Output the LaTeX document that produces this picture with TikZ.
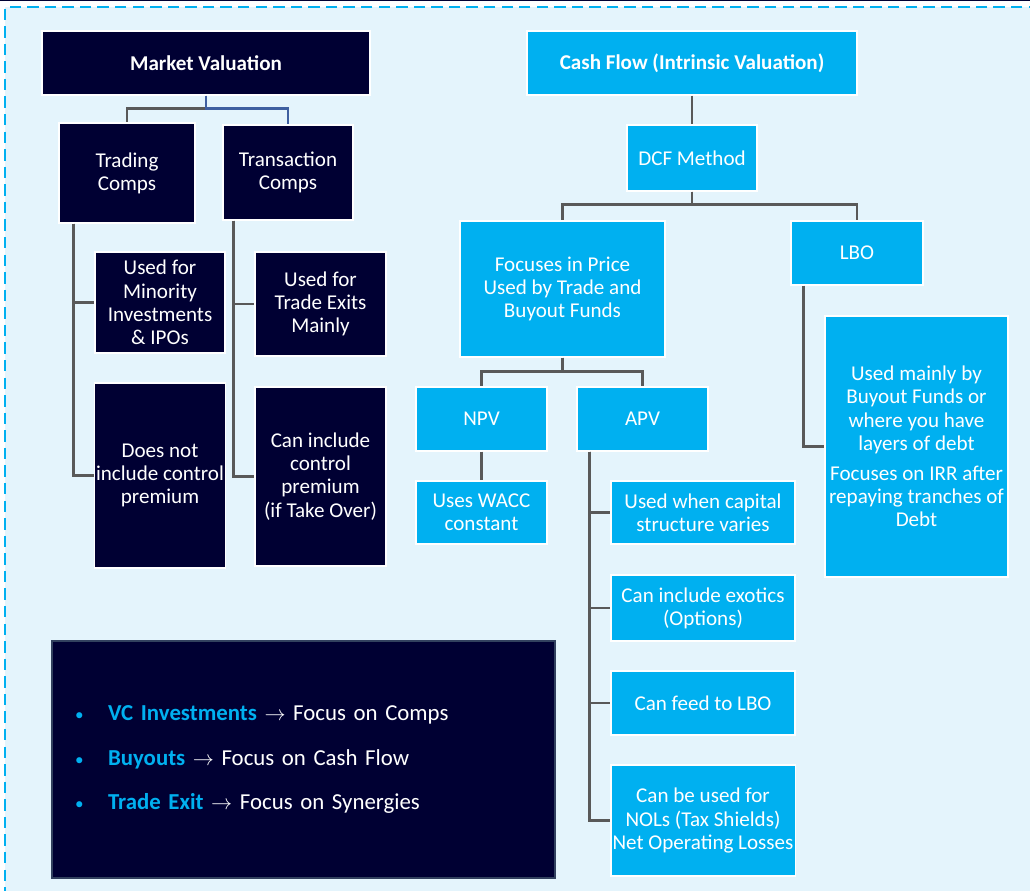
\documentclass[tikz,border=0pt]{standalone}
\usepackage{xcolor}
\usepackage{fontspec}
\setmainfont{Carlito}
\usepackage{tikz}
\usetikzlibrary{calc,positioning}

\definecolor{navy}{RGB}{0,0,51}
\definecolor{cyanblue}{RGB}{0,176,240}
\definecolor{bgblue}{RGB}{228,244,252}
\definecolor{linkgray}{RGB}{89,89,89}
\definecolor{linkblue}{RGB}{62,95,160}
\definecolor{rimgray}{RGB}{50,65,95}

\newcommand{\listdot}{\makebox[0.66cm][l]{\textcolor{cyanblue}{\scalebox{0.75}{\textbullet}}}}

\begin{document}
\begin{tikzpicture}[x=0.02cm, y=-0.02cm, align=center,
    navybox/.style={draw=white, line width=0.8pt, fill=navy, text=white, inner sep=1pt, font=\fontsize{12}{13.2}\selectfont},
    cyanbox/.style={navybox, fill=cyanblue},
    link/.style={draw=linkgray, line width=1.4pt}]
    \useasboundingbox (0,0) rectangle (1030,890);
    \clip (0,0) rectangle (1030,890);
    \fill[white] (0,0) rectangle (1030,890);
    \fill[bgblue] (5,7) rectangle (1040,900);
    \draw[cyanblue, line width=1.4pt, dash pattern=on 6.5pt off 3.5pt] (1040,7) -- (5,7) -- (5,900);
    \draw[navy, line width=0.8pt] (0,0.5) -- (1030,0.5);

    \node [navybox, minimum width=6.56cm, minimum height=1.28cm, font=\fontsize{12}{13.2}\selectfont\bfseries] (market_valuation) at (206,63) {Market Valuation};
    \node [navybox, minimum width=2.72cm, minimum height=2cm] (trading_comps) at (127,173) {Trading\\Comps};
    \node [navybox, minimum width=2.6cm, minimum height=1.9cm] (transaction_comps) at (288,172.5) {Transaction\\Comps};
    \node [navybox, minimum width=2.6cm, minimum height=2.02cm] (minority) at (160,302.5) {Used for\\Minority\\Investments\\\& IPOs};
    \node [navybox, minimum width=2.6cm, minimum height=3.7cm] (no_control) at (160,475.5) {Does not\\include control\\premium};
    \node [navybox, minimum width=2.62cm, minimum height=2.08cm] (trade_exits) at (320.5,304) {Used for\\Trade Exits\\Mainly};
    \node [navybox, minimum width=2.62cm, minimum height=3.58cm] (can_control) at (320.5,476.5) {Can include\\control\\premium\\(if Take Over)};

    \node [cyanbox, minimum width=6.6cm, minimum height=1.28cm, font=\fontsize{12}{13.2}\selectfont\bfseries] (cash_flow) at (692,63) {Cash Flow (Intrinsic Valuation)};
    \node [cyanbox, minimum width=2.6cm, minimum height=1.32cm] (dcf) at (692,158) {DCF Method};
    \node [cyanbox, minimum width=4.1cm, minimum height=2.72cm] (price) at (562.5,289) {Focuses in Price\\Used by Trade and\\Buyout Funds};
    \node [cyanbox, minimum width=2.64cm, minimum height=1.28cm] (lbo) at (857,253) {LBO};
    \node [cyanbox, minimum width=3.66cm, minimum height=5.22cm] (lbo_note) at (916.5,446.5) {Used mainly by\\Buyout Funds or\\where you have\\layers of debt\\[4pt]Focuses on IRR after\\repaying tranches of\\Debt};
    \node [cyanbox, minimum width=2.62cm, minimum height=1.28cm] (npv) at (481.5,419) {NPV};
    \node [cyanbox, minimum width=2.62cm, minimum height=1.28cm] (apv) at (642.5,419) {APV};
    \node [cyanbox, minimum width=2.62cm, minimum height=1.26cm] (wacc) at (481.5,512.5) {Uses WACC\\constant};
    \node [cyanbox, minimum width=3.68cm, minimum height=1.26cm] (capital) at (703,512.5) {Used when capital\\structure varies};
    \node [cyanbox, minimum width=3.68cm, minimum height=1.32cm] (exotics) at (703,608) {Can include exotics\\(Options)};
    \node [cyanbox, minimum width=3.68cm, minimum height=1.28cm] (feed_lbo) at (703,703) {Can feed to LBO};
    \node [cyanbox, minimum width=3.68cm, minimum height=2.22cm] (nols) at (703,820.5) {Can be used for\\NOLs (Tax Shields)\\Net Operating Losses};

    \node [navybox, draw=rimgray, minimum width=10.06cm, minimum height=4.74cm, align=left, inner xsep=0.46cm, text width=9.14cm, font=\fontsize{13}{25.5}\selectfont] (focus) at (303.5,759.5) {%
        \listdot\textcolor{cyanblue}{\bfseries VC Investments} $\rightarrow$ Focus on Comps\\
        \listdot\textcolor{cyanblue}{\bfseries Buyouts} $\rightarrow$ Focus on Cash Flow\\
        \listdot\textcolor{cyanblue}{\bfseries Trade Exit} $\rightarrow$ Focus on Synergies};

    \draw[link] (market_valuation.south) -- ++(0,13) -| (trading_comps.north);
    \draw[link, draw=linkblue] (market_valuation.south) -- ++(0,13) -| (transaction_comps.north);
    \draw[link] ($(trading_comps.south west)+(15,0)$) |- (minority.west);
    \draw[link] ($(trading_comps.south west)+(15,0)$) |- (no_control.west);
    \draw[link] ($(transaction_comps.south west)+(11,0)$) |- (trade_exits.west);
    \draw[link] ($(transaction_comps.south west)+(11,0)$) |- (can_control.west);

    \draw[link] (cash_flow) -- (dcf);
    \draw[link] (dcf.south) -- ++(0,13) -| (price.north);
    \draw[link] (dcf.south) -- ++(0,13) -| (lbo.north);
    \draw[link] ($(lbo.south west)+(13,0)$) |- (lbo_note.west);
    \draw[link] (price.south) -- ++(0,14) -| (npv.north);
    \draw[link] (price.south) -- ++(0,14) -| (apv.north);
    \draw[link] (npv) -- (wacc);
    \draw[link] ($(apv.south west)+(13,0)$) |- (capital.west);
    \draw[link] ($(apv.south west)+(13,0)$) |- (exotics.west);
    \draw[link] ($(apv.south west)+(13,0)$) |- (feed_lbo.west);
    \draw[link] ($(apv.south west)+(13,0)$) |- (nols.west);
\end{tikzpicture}
\end{document}
